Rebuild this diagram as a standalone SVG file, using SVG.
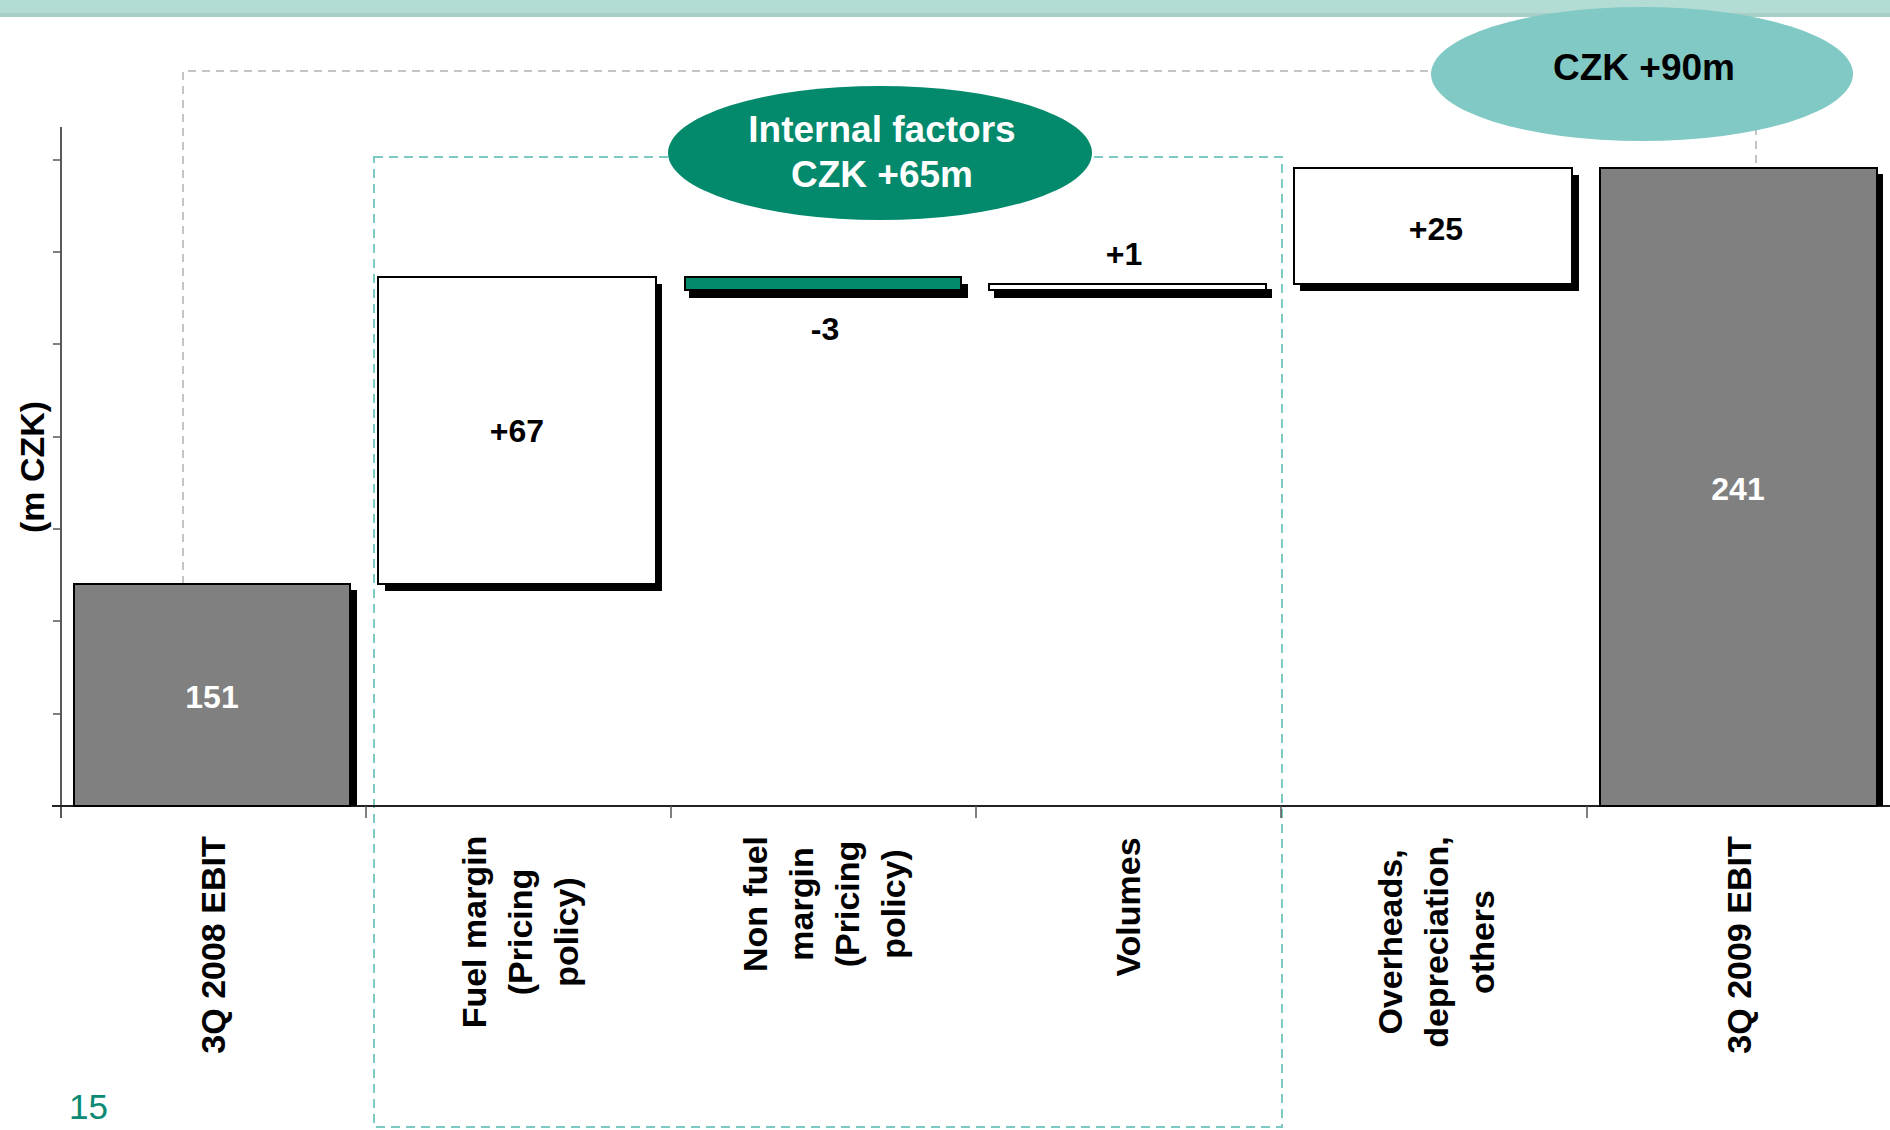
<svg xmlns="http://www.w3.org/2000/svg" width="1890" height="1130" viewBox="0 0 1890 1130">
<style>
.num{font-family:"Liberation Sans",Arial,sans-serif;font-weight:bold;font-size:32px;text-anchor:middle}
.cat{font-family:"Liberation Sans",Arial,sans-serif;font-weight:bold;font-size:34px;text-anchor:middle;fill:#000}
.ell{font-family:"Liberation Sans",Arial,sans-serif;font-weight:bold;font-size:37px;text-anchor:middle}
.bar{stroke:#000;stroke-width:2}
.shadow{fill:#000}
.tick{stroke:#555;stroke-width:1.5}
</style>
<rect width="1890" height="1130" fill="#fff"/>
<rect x="0" y="0" width="1890" height="14" fill="#b3dcd4"/>
<rect x="0" y="13" width="1890" height="4" fill="#a7cfc7"/>

<g id="connectors" fill="none">
  <path d="M183,584 V71 H1756 V168" stroke="#c4c4c4" stroke-width="2" stroke-dasharray="8,6"/>
  <rect x="374" y="157" width="908" height="970" stroke="#7ccac4" stroke-width="2" stroke-dasharray="9,6"/>
</g>

<g id="axes">
  <line x1="61" y1="127" x2="61" y2="818" stroke="#222" stroke-width="1.5"/>
  <line x1="52" y1="806" x2="1890" y2="806" stroke="#222" stroke-width="2"/>
  <g class="tick">
    <line x1="53" y1="160" x2="61" y2="160"/>
    <line x1="53" y1="252" x2="61" y2="252"/>
    <line x1="53" y1="344" x2="61" y2="344"/>
    <line x1="53" y1="437" x2="61" y2="437"/>
    <line x1="53" y1="529" x2="61" y2="529"/>
    <line x1="53" y1="621" x2="61" y2="621"/>
    <line x1="53" y1="714" x2="61" y2="714"/>
    <line x1="366" y1="806" x2="366" y2="818"/>
    <line x1="671" y1="806" x2="671" y2="818"/>
    <line x1="976" y1="806" x2="976" y2="818"/>
    <line x1="1281" y1="806" x2="1281" y2="818"/>
    <line x1="1587" y1="806" x2="1587" y2="818"/>
  </g>
  <text class="cat" transform="translate(44,467) rotate(-90)" font-size="32">(m CZK)</text>
</g>

<g id="bar-3q2008">
  <rect class="shadow" x="80" y="590" width="277" height="216"/>
  <rect class="bar" x="74" y="584" width="276" height="222" fill="#808080"/>
  <text class="num" x="212" y="708" fill="#fff">151</text>
</g>

<g id="bar-fuel-margin">
  <rect class="shadow" x="385" y="284" width="277" height="307"/>
  <rect class="bar" x="378" y="277" width="278" height="307" fill="#fff"/>
  <text class="num" x="517" y="442" fill="#000">+67</text>
</g>

<g id="bar-non-fuel">
  <rect class="shadow" x="689" y="284" width="279" height="14"/>
  <rect class="bar" x="685" y="277" width="276" height="13" fill="#03896b"/>
  <text class="num" x="825" y="340" fill="#000">-3</text>
</g>

<g id="bar-volumes">
  <rect class="shadow" x="994" y="289" width="278" height="9"/>
  <rect class="bar" x="989" y="284" width="277" height="6" fill="#fff"/>
  <text class="num" x="1124" y="265" fill="#000">+1</text>
</g>

<g id="bar-overheads">
  <rect class="shadow" x="1300" y="175" width="279" height="116"/>
  <rect class="bar" x="1294" y="168" width="278" height="116" fill="#fff"/>
  <text class="num" x="1436" y="240" fill="#000">+25</text>
</g>

<g id="bar-3q2009">
  <rect class="shadow" x="1606" y="174" width="277" height="632"/>
  <rect class="bar" x="1600" y="168" width="277" height="638" fill="#808080"/>
  <text class="num" x="1738" y="500" fill="#fff">241</text>
</g>

<g id="ellipse-internal">
  <ellipse cx="880" cy="153" rx="212" ry="67" fill="#03896b"/>
  <text class="ell" x="882" y="142" fill="#fff">Internal factors</text>
  <text class="ell" x="882" y="187" fill="#fff">CZK +65m</text>
</g>

<g id="ellipse-total">
  <ellipse cx="1642" cy="74" rx="211" ry="67" fill="#81c9c4"/>
  <text class="ell" x="1644" y="80" fill="#000">CZK +90m</text>
</g>

<g id="label-3q2008">
  <text class="cat" transform="translate(225,945) rotate(-90)">3Q 2008 EBIT</text>
</g>
<g id="label-fuel-margin">
  <text class="cat" transform="translate(486,932) rotate(-90)">Fuel margin</text>
  <text class="cat" transform="translate(532,932) rotate(-90)">(Pricing</text>
  <text class="cat" transform="translate(578,932) rotate(-90)">policy)</text>
</g>
<g id="label-non-fuel">
  <text class="cat" transform="translate(767,904) rotate(-90)">Non fuel</text>
  <text class="cat" transform="translate(813,904) rotate(-90)">margin</text>
  <text class="cat" transform="translate(859,904) rotate(-90)">(Pricing</text>
  <text class="cat" transform="translate(905,904) rotate(-90)">policy)</text>
</g>
<g id="label-volumes">
  <text class="cat" transform="translate(1140,907) rotate(-90)">Volumes</text>
</g>
<g id="label-overheads">
  <text class="cat" transform="translate(1402,942) rotate(-90)">Overheads,</text>
  <text class="cat" transform="translate(1448,942) rotate(-90)">depreciation,</text>
  <text class="cat" transform="translate(1494,942) rotate(-90)">others</text>
</g>
<g id="label-3q2009">
  <text class="cat" transform="translate(1751,945) rotate(-90)">3Q 2009 EBIT</text>
</g>

<text x="69" y="1119" font-family="Liberation Sans,Arial,sans-serif" font-size="35" fill="#0a8a72">15</text>
</svg>
